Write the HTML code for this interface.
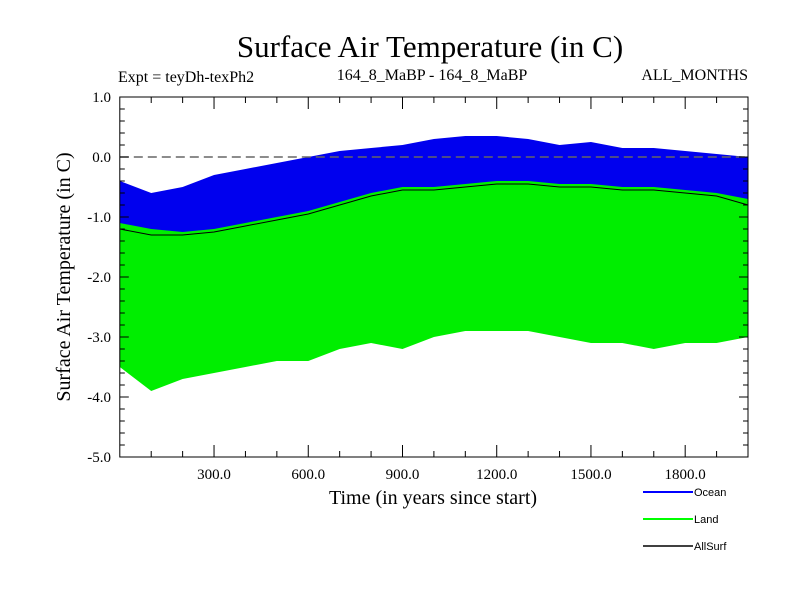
<!DOCTYPE html>
<html><head><meta charset="utf-8"><style>
body{margin:0;background:#fff;}
svg text{font-family:"Liberation Serif",serif;fill:#000;}
</style></head><body>
<svg id="c" width="800" height="600" xmlns="http://www.w3.org/2000/svg">
<text x="430" y="57" font-size="31" text-anchor="middle">Surface Air Temperature (in C)</text>
<text x="118" y="82" font-size="16">Expt = teyDh-texPh2</text>
<text x="432" y="80" font-size="16" text-anchor="middle">164_8_MaBP - 164_8_MaBP</text>
<text x="748" y="80" font-size="16" text-anchor="end">ALL_MONTHS</text>
<text transform="translate(70,277) rotate(-90)" font-size="20" text-anchor="middle">Surface Air Temperature (in C)</text>
<text x="433" y="504" font-size="20" text-anchor="middle">Time (in years since start)</text>
<g id="plot"></g>
<g id="axes"></g>
<g>
<line x1="643" y1="492" x2="693" y2="492" stroke="#0000ff" stroke-width="2"/>
<text x="694" y="496" font-size="11" style="font-family:'Liberation Sans',sans-serif">Ocean</text>
<line x1="643" y1="519" x2="693" y2="519" stroke="#00ff00" stroke-width="2"/>
<text x="694" y="523" font-size="11" style="font-family:'Liberation Sans',sans-serif">Land</text>
<line x1="643" y1="546" x2="693" y2="546" stroke="#000" stroke-width="1.5"/>
<text x="694" y="550" font-size="11" style="font-family:'Liberation Sans',sans-serif">AllSurf</text>
</g>
</svg>
<script>
const years=[0,100,200,300,400,500,600,700,800,900,1000,1100,1200,1300,1400,1500,1600,1700,1800,1900,2000];
const oceanMax=[-0.4,-0.6,-0.5,-0.3,-0.2,-0.1,0.0,0.1,0.15,0.2,0.3,0.35,0.35,0.3,0.2,0.25,0.15,0.15,0.1,0.05,0.0];
const oceanMin=[-1.1,-1.2,-1.25,-1.2,-1.1,-1.0,-0.9,-0.75,-0.6,-0.5,-0.5,-0.45,-0.4,-0.4,-0.45,-0.45,-0.5,-0.5,-0.55,-0.6,-0.7];
const allSurfMin=[-1.2,-1.3,-1.3,-1.25,-1.15,-1.05,-0.95,-0.8,-0.65,-0.55,-0.55,-0.5,-0.45,-0.45,-0.5,-0.5,-0.55,-0.55,-0.6,-0.65,-0.8];
const landMax=[-0.6,-0.8,-0.7,-0.5,-0.4,-0.3,-0.2,-0.1,-0.05,0.0,0.1,0.1,0.1,0.05,0.0,0.0,-0.05,-0.05,-0.1,-0.15,-0.2];
const landMin=[-3.5,-3.9,-3.7,-3.6,-3.5,-3.4,-3.4,-3.2,-3.1,-3.2,-3.0,-2.9,-2.9,-2.9,-3.0,-3.1,-3.1,-3.2,-3.1,-3.1,-3.0];
const yTicks=[1.0,0.0,-1.0,-2.0,-3.0,-4.0,-5.0];
const xTicks=[300,600,900,1200,1500,1800];
const L=119.8,R=748,T=97,B=457;
const X=v=>L+(v-0)*(R-L)/2000, Y=v=>T+(1-v)*(B-T)/6;
const NS='http://www.w3.org/2000/svg';
const plot=document.getElementById('plot'), axes=document.getElementById('axes');
function mk(t,a,p){const e=document.createElementNS(NS,t);for(const k in a)e.setAttribute(k,a[k]);p.appendChild(e);return e;}
function band(top,bot,fill,name){
  let d=years.map((y,i)=>(i?'L':'M')+X(y)+','+Y(top[i])).join('');
  for(let i=years.length-1;i>=0;i--)d+='L'+X(years[i])+','+Y(bot[i]);
  const p=mk('path',{d:d+'Z',fill:fill},plot);
  
  
}
band(landMax,landMin,'#00ee00','land-series');
const pl=mk('polyline',{points:years.map((y,i)=>X(y)+','+Y(allSurfMin[i])).join(' '),fill:'none',stroke:'#000',"stroke-width":1},plot);


band(oceanMax,oceanMin,'#0000ee','ocean-series');
const z=mk('line',{x1:L,x2:R,y1:Y(0),y2:Y(0),stroke:'#666',"stroke-width":1.5,"stroke-dasharray":"9,5"},plot);


const fr=mk('rect',{x:L,y:T,width:R-L,height:B-T,fill:'none',stroke:'#000',"stroke-width":1},axes);


for(let v=-5;v<=1.001;v+=0.2){const maj=Math.abs(v-Math.round(v))<1e-6;const l=maj?9:5;
  mk('line',{x1:L,x2:L+l,y1:Y(v),y2:Y(v),stroke:'#000'},axes);mk('line',{x1:R,x2:R-l,y1:Y(v),y2:Y(v),stroke:'#000'},axes);}
for(let v=100;v<2000;v+=100){const maj=v%300==0;const l=maj?12:6;
  mk('line',{x1:X(v),x2:X(v),y1:B,y2:B-l,stroke:'#000'},axes);mk('line',{x1:X(v),x2:X(v),y1:T,y2:T+l,stroke:'#000'},axes);}
yTicks.forEach(v=>{const t=mk('text',{x:111,y:Y(v)+5,"font-size":15,"text-anchor":"end"},axes);t.textContent=v.toFixed(1);

});
xTicks.forEach(v=>{const t=mk('text',{x:X(v),y:479,"font-size":15,"text-anchor":"middle"},axes);t.textContent=v.toFixed(1);

});
</script>
</body></html>
